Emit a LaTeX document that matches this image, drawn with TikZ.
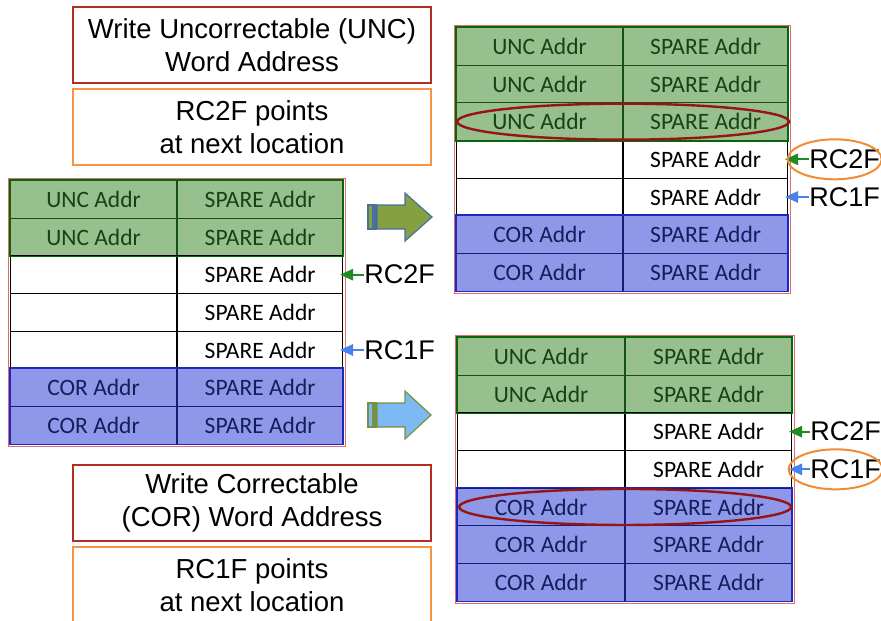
\documentclass[tikz,border=0pt]{standalone}
\usepackage{fontspec}
\setmainfont{Liberation Sans}
\newfontfamily\cellfont{Carlito}
\usetikzlibrary{arrows.meta}

\definecolor{uncfill}{RGB}{152,192,142}
\definecolor{uncline}{RGB}{22,80,22}
\definecolor{uncedge}{RGB}{10,100,10}
\definecolor{unctext}{RGB}{22,66,22}
\definecolor{corfill}{RGB}{143,152,232}
\definecolor{corline}{RGB}{20,30,120}
\definecolor{coredge}{RGB}{30,40,190}
\definecolor{cortext}{RGB}{20,30,90}
\definecolor{tableedge}{RGB}{222,110,110}
\definecolor{capred}{RGB}{180,45,35}
\definecolor{caporange}{RGB}{245,150,70}
\definecolor{ringred}{RGB}{150,20,20}
\definecolor{ringorange}{RGB}{240,140,50}
\definecolor{ptrgreen}{RGB}{30,140,30}
\definecolor{ptrblue}{RGB}{70,130,235}
\definecolor{arrowolive}{RGB}{133,160,65}
\definecolor{arrowsteel}{RGB}{75,110,160}
\definecolor{arrowsky}{RGB}{125,185,245}
\definecolor{arrowmoss}{RGB}{120,145,60}

% one row of an address table: left cell (kind + text) and a SPARE Addr cell
\newcommand\addrtable[6]{%
  \foreach \k/\t [count=\i] in {#6} {
    \node[cellbox, \k, minimum width=#3, anchor=north west]
      (#1-\i-a) at (#2, {#5+37.65*(\i-1)}) {\t};
    \node[cellbox, \k, minimum width=#4, anchor=north west]
      (#1-\i-b) at (#1-\i-a.north east) {SPARE Addr};
  }}

\begin{document}
\begin{tikzpicture}[x=1pt,y=-1pt,
  cellbox/.style={minimum height=37.65pt, inner sep=0pt, line width=1.1pt,
    font=\cellfont\fontsize{23.5}{26}\selectfont},
  uncrow/.style={fill=uncfill, draw=uncline, text=unctext},
  corrow/.style={fill=corfill, draw=corline, text=cortext},
  freerow/.style={fill=white, draw=black, text=black},
  uncgroup/.style={draw=uncedge, line width=1.6pt},
  corgroup/.style={draw=coredge, line width=1.6pt},
  tableframe/.style={draw=tableedge, line width=0.8pt},
  capbox/.style={minimum width=358pt, minimum height=76pt, inner sep=0pt,
    align=center, line width=1.1pt, font=\fontsize{27.5}{33}\selectfont},
  rclabel/.style={anchor=west, inner sep=0pt, font=\fontsize{27}{30}\selectfont},
  ptr/.style={line width=1.8pt,
    -{Triangle[length=13pt,width=12pt,line width=0pt]}, shorten >=-3pt},
  ring/.style={line width=2.4pt},
  stripearrow/.style={line width=1.2pt, line join=miter}
]
\useasboundingbox (0,0) rectangle (881,621);

% caption boxes
\node[capbox, draw=capred] (capunc) at (252,45)
  {Write Uncorrectable (UNC)\\Word Address};
\node[capbox, draw=caporange] (caprc2) at (252,127)
  {RC2F points\\at next location};
\node[capbox, draw=capred] (capcor) at (252,503)
  {Write Correctable\\(COR) Word Address};
\node[capbox, draw=caporange] (caprc1) at (252,585)
  {RC1F points\\at next location};

% initial table
\addrtable{L}{10}{166pt}{165pt}{180}{uncrow/UNC Addr, uncrow/UNC Addr,
  freerow/{}, freerow/{}, freerow/{}, corrow/COR Addr, corrow/COR Addr}
\draw[uncgroup] (L-1-a.north west) rectangle (L-2-b.south east);
\draw[corgroup] (L-6-a.north west) rectangle (L-7-b.south east);
\draw[tableframe] ([shift={(-2,-2)}]L-1-a.north west)
  rectangle ([shift={(2,2)}]L-7-b.south east);

% table after an uncorrectable write
\addrtable{T}{456}{166pt}{164pt}{27}{uncrow/UNC Addr, uncrow/UNC Addr,
  uncrow/UNC Addr, freerow/{}, freerow/{}, corrow/COR Addr, corrow/COR Addr}
\draw[uncgroup] (T-1-a.north west) rectangle (T-3-b.south east);
\draw[corgroup] (T-6-a.north west) rectangle (T-7-b.south east);
\draw[tableframe] ([shift={(-2,-2)}]T-1-a.north west)
  rectangle ([shift={(2,2)}]T-7-b.south east);

% table after a correctable write
\addrtable{B}{457}{167pt}{166pt}{337}{uncrow/UNC Addr, uncrow/UNC Addr,
  freerow/{}, freerow/{}, corrow/COR Addr, corrow/COR Addr, corrow/COR Addr}
\draw[uncgroup] (B-1-a.north west) rectangle (B-2-b.south east);
\draw[corgroup] (B-5-a.north west) rectangle (B-7-b.south east);
\draw[tableframe] ([shift={(-2,-2)}]B-1-a.north west)
  rectangle ([shift={(2,2)}]B-7-b.south east);

% RC2F / RC1F pointers
\node[rclabel] (L-rc2) at ([xshift=21pt]L-3-b.east) {RC2F};
\node[rclabel] (L-rc1) at ([xshift=21pt]L-5-b.east) {RC1F};
\node[rclabel] (T-rc2) at ([xshift=21pt]T-4-b.east) {RC2F};
\node[rclabel] (T-rc1) at ([xshift=21pt]T-5-b.east) {RC1F};
\node[rclabel] (B-rc2) at ([xshift=18pt]B-3-b.east) {RC2F};
\node[rclabel] (B-rc1) at ([xshift=18pt]B-4-b.east) {RC1F};
\draw[ptr, ptrgreen] (L-rc2.west) -- (L-3-b.east);
\draw[ptr, ptrblue]  (L-rc1.west) -- (L-5-b.east);
\draw[ptr, ptrgreen] (T-rc2.west) -- (T-4-b.east);
\draw[ptr, ptrblue]  (T-rc1.west) -- (T-5-b.east);
\draw[ptr, ptrgreen] (B-rc2.west) -- (B-3-b.east);
\draw[ptr, ptrblue]  (B-rc1.west) -- (B-4-b.east);

% highlighted rows and pointers
\draw[ring, ringred] (T-3-a.east) ellipse [x radius=166pt, y radius=18pt];
\draw[ring, ringred] (B-5-a.east) ellipse [x radius=166pt, y radius=18pt];
\draw[ring, ringorange, line width=2pt] ([xshift=-10pt]T-rc2.center)
  ellipse [x radius=47pt, y radius=20pt];
\draw[ring, ringorange, line width=2pt] ([xshift=-10pt]B-rc1.center)
  ellipse [x radius=47pt, y radius=20pt];

% striped block arrows
\begin{scope}[stripearrow, draw=arrowsteel, fill=arrowolive]
  \filldraw (368,205) rectangle (373,229);
  \filldraw (374,205) rectangle (376,229);
  \filldraw (377,205) -- (405,205) -- (405,193) -- (432,217)
    -- (405,241) -- (405,229) -- (377,229) -- cycle;
\end{scope}
\begin{scope}[stripearrow, draw=arrowmoss, fill=arrowsky]
  \filldraw (368,403) rectangle (373,427);
  \filldraw (374,403) rectangle (376,427);
  \filldraw (377,403) -- (405,403) -- (405,391) -- (431,415)
    -- (405,439) -- (405,427) -- (377,427) -- cycle;
\end{scope}
\end{tikzpicture}
\end{document}
